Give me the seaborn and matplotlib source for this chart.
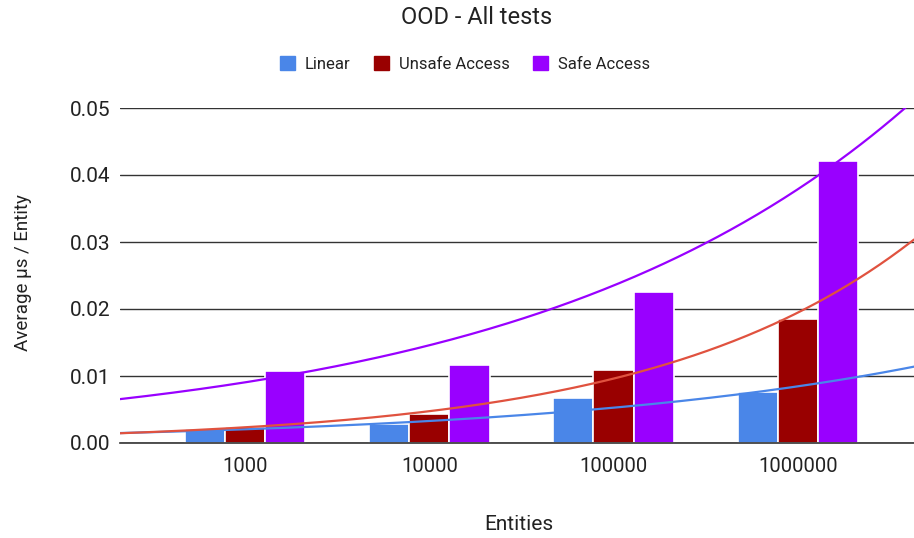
import numpy as np
import pandas as pd
import matplotlib
matplotlib.use("Agg")
import matplotlib.pyplot as plt
import seaborn as sns
from matplotlib.patches import Patch

categories = ["1000", "10000", "100000", "1000000"]
linear = [0.0021, 0.0028, 0.0067, 0.0076]
unsafe = [0.0024, 0.0043, 0.0109, 0.0185]
safe = [0.0107, 0.0116, 0.0225, 0.0421]
series_names = ["Linear", "Unsafe Access", "Safe Access"]
bar_colors = ["#4a86e8", "#990000", "#9900ff"]
trend_colors = ["#4a86e8", "#e0523f", "#9900ff"]

sns.set_theme(style="white")
plt.rcParams['font.family'] = ['Roboto', 'DejaVu Sans']

df = pd.DataFrame({
    "Entities": categories * 3,
    "value": linear + unsafe + safe,
    "series": [s for s in series_names for _ in categories],
})

fig = plt.figure(figsize=(9.14, 5.38), dpi=100)
ax = fig.add_axes([120 / 914, 1 - 443 / 538, 1 - 120 / 914, (443 - 108) / 538])

sns.barplot(data=df, x="Entities", y="value", hue="series", order=categories,
            hue_order=series_names, palette=bar_colors, width=0.655,
            edgecolor="white", linewidth=1.2, saturation=1, ax=ax, legend=False)

xmin, xmax = -0.678, 3.63
ax.set_xlim(xmin, xmax)
ax.set_ylim(0, 0.05)

# exponential trendlines (least squares on log values)
idx = np.arange(len(categories))
xs = np.linspace(xmin, xmax, 300)
for vals, col in zip([linear, unsafe, safe], trend_colors):
    b, a = np.polyfit(idx, np.log(vals), 1)
    ax.plot(xs, np.exp(a + b * xs), color=col, lw=1.6, zorder=5, clip_on=True)

ax.set_yticks(np.arange(0, 0.051, 0.01))
ax.set_yticklabels([f"{v:.2f}" for v in np.arange(0, 0.051, 0.01)])
ax.yaxis.grid(True, color="#333333", lw=1)
ax.set_axisbelow(True)
for s in ["top", "right", "left"]:
    ax.spines[s].set_visible(False)
ax.spines["bottom"].set_color("#333333")
ax.spines["bottom"].set_linewidth(1.2)
ax.tick_params(axis="y", length=0, labelsize=15, colors="#222222", pad=7)
ax.tick_params(axis="x", length=0, labelsize=14.5, colors="#222222", pad=10)

ax.set_xlabel("")
ax.set_ylabel("")
fig.text(519 / 914, 1 - 525 / 538, "Entities", ha="center", va="center",
         fontsize=15, color="#222222")
fig.text(23 / 914, 1 - 273 / 538, "Average µs / Entity", ha="center", va="center",
         rotation=90, fontsize=13.5, color="#222222")
fig.text(477 / 914, 1 - 18 / 538, "OOD - All tests", ha="center", va="center",
         fontsize=17, color="#222222")

handles = [Patch(facecolor=c, edgecolor=c) for c in bar_colors]
fig.legend(handles, series_names, loc="center", bbox_to_anchor=(465 / 914, 1 - 64 / 538),
           ncol=3, frameon=False, fontsize=12, handlelength=0.9, handleheight=0.9,
           columnspacing=1.4, handletextpad=0.6, labelcolor="#222222")

fig.savefig("out.png", dpi=100)
